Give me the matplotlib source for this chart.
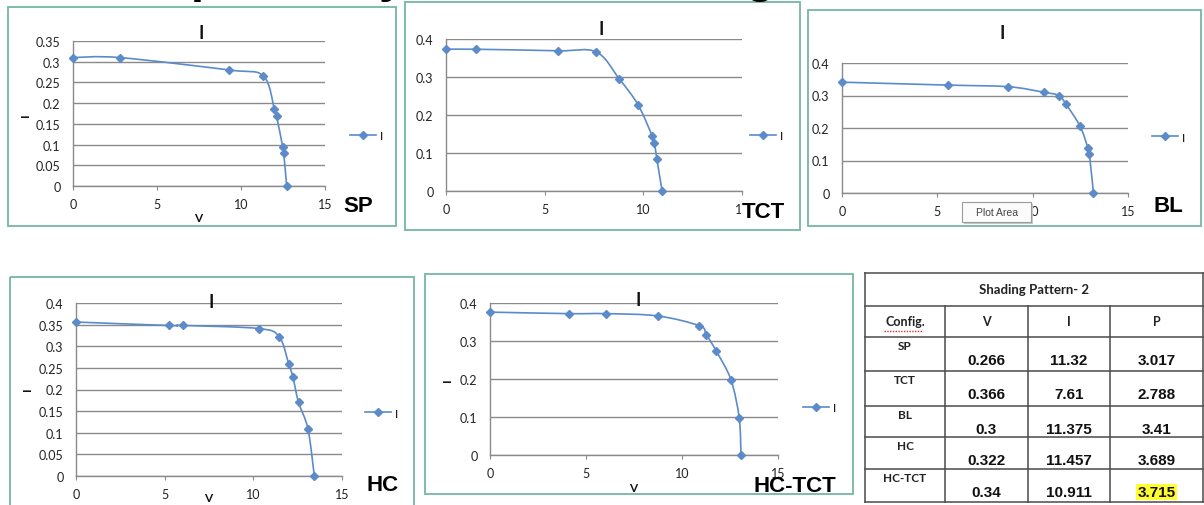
import numpy as np
import matplotlib
matplotlib.use("Agg")
import matplotlib.pyplot as plt
from matplotlib.patches import Rectangle
from matplotlib.lines import Line2D
from matplotlib.path import Path
from matplotlib.patches import PathPatch

# ---------------- data ----------------
sp_v = [0.0, 2.78, 9.30, 11.32, 11.98, 12.12, 12.48, 12.54, 12.72]
sp_i = [0.310, 0.310, 0.280, 0.266, 0.187, 0.168, 0.095, 0.080, 0.0]

tct_v = [0.0, 1.54, 5.66, 7.61, 8.78, 9.73, 10.44, 10.56, 10.69, 10.95]
tct_i = [0.373, 0.373, 0.369, 0.366, 0.295, 0.227, 0.146, 0.126, 0.083, 0.0]

bl_v = [0.0, 5.57, 8.73, 10.57, 11.375, 11.74, 12.49, 12.90, 12.97, 13.19]
bl_i = [0.341, 0.332, 0.327, 0.310, 0.300, 0.274, 0.205, 0.138, 0.121, 0.0]

hc_v = [0.0, 5.25, 6.06, 10.30, 11.457, 11.99, 12.23, 12.55, 13.08, 13.44]
hc_i = [0.356, 0.348, 0.348, 0.341, 0.322, 0.260, 0.229, 0.170, 0.109, 0.0]

hctct_v = [0.0, 4.12, 6.05, 8.73, 10.911, 11.26, 11.79, 12.55, 12.98, 13.07]
hctct_i = [0.376, 0.372, 0.372, 0.366, 0.340, 0.317, 0.273, 0.198, 0.097, 0.0]

panel_names = ["SP", "TCT", "BL", "HC", "HC-TCT"]
x_ticks = [0, 5, 10, 15]

table_title = "Shading Pattern- 2"
table_cols = ["Config.", "V", "I", "P"]
table_configs = ["SP", "TCT", "BL", "HC", "HC-TCT"]
table_V = ["0.266", "0.366", "0.3", "0.322", "0.34"]
table_I = ["11.32", "7.61", "11.375", "11.457", "10.911"]
table_P = ["3.017", "2.788", "3.41", "3.689", "3.715"]

# ---------------- layout ----------------
W, H = 1204, 506
fig = plt.figure(figsize=(W / 100, H / 100), dpi=100)
fig.patch.set_facecolor("white")

def frac(x0, y0, x1, y1):
    return [x0 / W, 1 - y1 / H, (x1 - x0) / W, (y1 - y0) / H]

LINE_C = "#5B8BC9"
GRID_C = "#8a8a8a"
BOX_C = "#74b8a0"
TICK_FONT = "Lato"

def smooth_path(ax, xs, ys, xmax, ymax, wpx, hpx):
    # Excel-like smoothed line (cubic Bezier, Catmull-Rom control points) in screen space
    px = np.asarray(xs) / xmax * wpx
    py = np.asarray(ys) / ymax * hpx
    n = len(px)
    verts = [(px[0], py[0])]
    codes = [Path.MOVETO]
    for k in range(n - 1):
        p0 = k - 1 if k > 0 else k
        p3 = k + 2 if k + 2 < n else k + 1
        c1 = (px[k] + (px[k + 1] - px[p0]) / 6, py[k] + (py[k + 1] - py[p0]) / 6)
        c2 = (px[k + 1] - (px[p3] - px[k]) / 6, py[k + 1] - (py[p3] - py[k]) / 6)
        verts += [c1, c2, (px[k + 1], py[k + 1])]
        codes += [Path.CURVE4] * 3
    verts = [(vx / wpx * xmax, vy / hpx * ymax) for vx, vy in verts]
    ax.add_patch(PathPatch(Path(verts, codes), facecolor="none", edgecolor=LINE_C,
                           lw=1.2, zorder=3))

panels = [
    dict(name="SP", v=sp_v, i=sp_i, ax=(73, 42, 325, 187), ymax=0.35, ystep=0.05,
         box=(8, 8, 396, 227), title=(201, 33), label=(358, 207), leg=(352, 137),
         xlabel=(198, 218), ylabel=(25, 115), lblbg=False),
    dict(name="TCT", v=tct_v, i=tct_i, ax=(446, 40, 742, 192), ymax=0.4, ystep=0.1,
         box=(405, 3, 800, 231), title=(601, 29), label=(763, 212), leg=(752, 137),
         xlabel=None, ylabel=None, lblbg=True),
    dict(name="BL", v=bl_v, i=bl_i, ax=(842, 64, 1128, 194), ymax=0.4, ystep=0.1,
         box=(808, 11, 1201, 227), title=(1002, 33), label=(1168, 206), leg=(1154, 138),
         xlabel=None, ylabel=None, lblbg=False),
    dict(name="HC", v=hc_v, i=hc_i, ax=(76, 304, 342, 477), ymax=0.4, ystep=0.05,
         box=(10, 278, 414, 520), title=(211, 303), label=(383, 486), leg=(367, 414),
         xlabel=(208, 499), ylabel=(27, 389), lblbg=False),
    dict(name="HC-TCT", v=hctct_v, i=hctct_i, ax=(490, 304, 778, 456), ymax=0.4, ystep=0.1,
         box=(425, 275, 853, 495), title=(638, 300), label=(795, 487), leg=(805, 409),
         xlabel=(633, 489), ylabel=(448, 380), lblbg=False),
]

ov = fig.add_axes([0, 0, 1, 1], zorder=10)
ov.set_xlim(0, W)
ov.set_ylim(H, 0)
ov.axis("off")
ov.patch.set_alpha(0)

for p in panels:
    x0, y0, x1, y1 = p["ax"]
    ax = fig.add_axes(frac(x0, y0, x1, y1))
    ax.set_xlim(0, 15)
    ax.set_ylim(0, p["ymax"])
    smooth_path(ax, p["v"], p["i"], 15, p["ymax"], x1 - x0, y1 - y0)
    ax.plot(p["v"], p["i"], linestyle="none", marker="D", markersize=4.3,
            color=LINE_C, zorder=4, clip_on=False, label="I")
    yt = np.round(np.arange(0, p["ymax"] + 1e-9, p["ystep"]), 2)
    ax.set_yticks(yt)
    ax.set_yticklabels([f"{t:g}" for t in yt], fontsize=9, family=TICK_FONT, color="#222")
    ax.set_xticks(x_ticks)
    ax.set_xticklabels([str(t) for t in x_ticks], fontsize=9, family=TICK_FONT, color="#222")
    ax.grid(axis="y", color=GRID_C, lw=1.0)
    ax.set_axisbelow(True)
    for s in ["top", "right"]:
        ax.spines[s].set_visible(False)
    for s in ["left", "bottom"]:
        ax.spines[s].set_color(GRID_C)
        ax.spines[s].set_linewidth(1.0)
    ax.tick_params(axis="y", length=0, pad=9)
    ax.tick_params(axis="x", length=3, color=GRID_C, pad=6)
    ax.patch.set_alpha(0)

    # legend outside plot area
    lx, ly = p["leg"]
    ax.legend(handles=[Line2D([0], [0], color=LINE_C, lw=1.2, marker="D", markersize=4.3)],
              labels=["I"], loc="center left", bbox_to_anchor=((lx - 8) / W, 1 - ly / H),
              bbox_transform=fig.transFigure, frameon=False, handlelength=2.2,
              handletextpad=0.3, borderpad=0, prop=dict(family=TICK_FONT, size=8.5))

    # chart border
    bx0, by0, bx1, by1 = p["box"]
    ov.add_patch(Rectangle((bx0, by0), bx1 - bx0, by1 - by0, fill=False,
                           edgecolor=BOX_C, lw=1.3))
    # chart title
    ov.text(p["title"][0], p["title"][1], "I", ha="center", va="center",
            fontsize=13, fontweight="bold", family=TICK_FONT, color="#111")
    if p["xlabel"]:
        ov.text(p["xlabel"][0], p["xlabel"][1], "V", ha="center", va="center",
                fontsize=8.5, fontweight="bold", family=TICK_FONT, color="#111")
    if p["ylabel"]:
        ov.text(p["ylabel"][0], p["ylabel"][1], "I", ha="center", va="center",
                rotation=90, fontsize=8.5, fontweight="bold", family=TICK_FONT, color="#111")
    bb = dict(facecolor="white", edgecolor="none", pad=0.5) if p["lblbg"] else None
    ov.text(p["label"][0], p["label"][1], p["name"], ha="center", va="center",
            fontsize=16, fontweight="bold", family="Liberation Sans", color="#000", bbox=bb)

# "Plot Area" tooltip on the BL chart
ov.add_patch(Rectangle((964, 205), 69, 20, facecolor="#c9c9c9", edgecolor="none"))
ov.add_patch(Rectangle((962, 203), 69, 20, facecolor="#fbfbfb", edgecolor="#9a9a9a", lw=0.8))
ov.text(996.5, 213, "Plot Area", ha="center", va="center", fontsize=7.5,
        family="Liberation Sans", color="#444")

# cut-off heading fragments at the very top
for gx, ch in [(205, "p"), (392, "y"), (760, "g")]:
    ov.text(gx, -8.5, ch, ha="center", va="baseline", fontsize=34, fontweight="bold",
            family="Liberation Sans", color="#000")

# ---------------- table ----------------
col_x = [865, 945, 1028, 1110, 1203]
row_y = [274, 307, 338, 372, 407, 438, 470, 503]
TB_C = "#4a4a4a"
for y in row_y:
    ov.plot([col_x[0], col_x[-1]], [y, y], color=TB_C, lw=1.1)
ov.plot([col_x[0], col_x[0]], [row_y[0], row_y[-1]], color=TB_C, lw=1.1)
ov.plot([col_x[-1], col_x[-1]], [row_y[0], row_y[-1]], color=TB_C, lw=1.1)
for x in col_x[1:-1]:
    ov.plot([x, x], [row_y[1], row_y[-1]], color=TB_C, lw=1.1)

ov.text((col_x[0] + col_x[-1]) / 2, (row_y[0] + row_y[1]) / 2, table_title,
        ha="center", va="center", fontsize=9.5, fontweight="bold", family=TICK_FONT, color="#222")
for c, name in enumerate(table_cols):
    ov.text((col_x[c] + col_x[c + 1]) / 2, (row_y[1] + row_y[2]) / 2, name,
            ha="center", va="center", fontsize=9, fontweight="bold", family=TICK_FONT,
            color="#222")
# spell-check squiggle under "Config."
ov.plot([884, 923], [332, 332], color="#d03030", lw=1.0, linestyle=(0, (1, 1)))

for r, cfg in enumerate(table_configs):
    top = row_y[r + 2]
    ov.text((col_x[0] + col_x[1]) / 2, top + 9, cfg, ha="center", va="center",
            fontsize=8.5, fontweight="bold", family=TICK_FONT, color="#222")
    for c, vals in enumerate([table_V, table_I, table_P]):
        cx = (col_x[c + 1] + col_x[c + 2]) / 2
        bb = None
        if r == len(table_configs) - 1 and c == 2:
            bb = dict(facecolor="#ffff33", edgecolor="none", pad=1.0)
        ov.text(cx, top + 23, vals[r], ha="center", va="center", fontsize=11,
                fontweight="bold", family="Liberation Sans", color="#111", bbox=bb)

fig.savefig("out.png", dpi=100, facecolor="white")
